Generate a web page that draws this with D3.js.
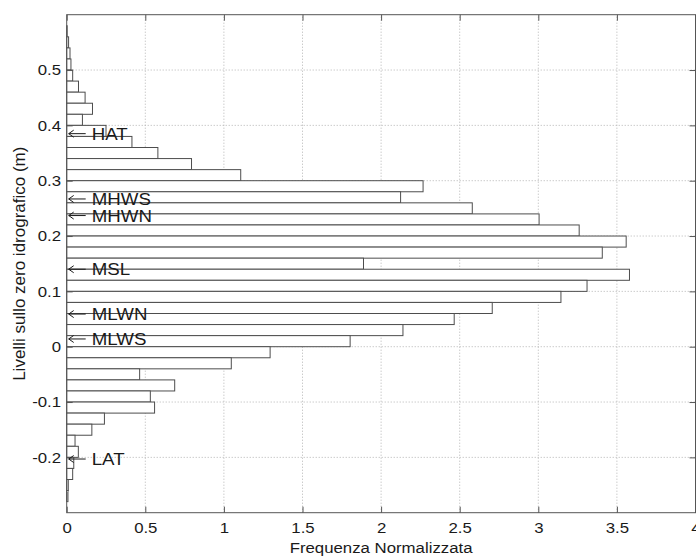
<!DOCTYPE html>
<html>
<head>
<meta charset="utf-8">
<script src="https://cdn.jsdelivr.net/npm/d3@7"></script>
<style>
    body { margin: 0; background: #fff; }
    svg text { font-family: "Liberation Sans", Arial, Helvetica, sans-serif; fill: #1a1a1a; }
</style>
</head>
<body>
<svg id="chart" width="696" height="556"></svg>
<script>

// livelli (centro classe, m) e frequenza normalizzata
var binCenters = [0.57, 0.55, 0.53, 0.51, 0.49, 0.47, 0.45, 0.43, 0.41, 0.39,
                  0.37, 0.35, 0.33, 0.31, 0.29, 0.27, 0.25, 0.23, 0.21, 0.19,
                  0.17, 0.15, 0.13, 0.11, 0.09, 0.07, 0.05, 0.03, 0.01, -0.01,
                  -0.03, -0.05, -0.07, -0.09, -0.11, -0.13, -0.15, -0.17, -0.19, -0.21,
                  -0.23, -0.25, -0.27];
var frequencies = [0.003, 0.012, 0.021, 0.027, 0.038, 0.075, 0.117, 0.164, 0.10, 0.25,
                   0.415, 0.58, 0.794, 1.107, 2.267, 2.124, 2.58, 3.005, 3.26, 3.559,
                   3.407, 1.888, 3.58, 3.31, 3.144, 2.707, 2.465, 2.139, 1.803, 1.294,
                   1.047, 0.464, 0.687, 0.532, 0.559, 0.24, 0.16, 0.053, 0.074, 0.045,
                   0.038, 0.01, 0.008];
var binWidth = 0.02;

var xTickValues = [0, 0.5, 1, 1.5, 2, 2.5, 3, 3.5, 4];
var yTickValues = [-0.2, -0.1, 0, 0.1, 0.2, 0.3, 0.4, 0.5];

var markerNames = ["HAT", "MHWS", "MHWN", "MSL", "MLWN", "MLWS", "LAT"];
var markerLevels = [0.385, 0.267, 0.237, 0.140, 0.059, 0.014, -0.203];

var Histogram = (function() {

    var svg = null;
    var x = null;
    var y = null;
    var stretch = "scale(1.12,1)";

    function drawGrid() {
        var g = svg.append("g").attr("class", "grid");
        g.selectAll("line.gx")
          .data(xTickValues.slice(1, -1))
          .enter().append("line")
          .attr("x1", function(d) { return x(d); })
          .attr("x2", function(d) { return x(d); })
          .attr("y1", y.range()[0])
          .attr("y2", y.range()[1]);
        g.selectAll("line.gy")
          .data(yTickValues)
          .enter().append("line")
          .attr("x1", x.range()[0])
          .attr("x2", x.range()[1])
          .attr("y1", function(d) { return y(d); })
          .attr("y2", function(d) { return y(d); });
        g.selectAll("line")
          .attr("stroke", "#b4b4b4")
          .attr("stroke-width", 1)
          .attr("stroke-dasharray", "1,2");
    }

    function drawBars() {
        svg.append("g")
          .selectAll("rect")
          .data(binCenters)
          .enter().append("rect")
          .attr("x", x(0))
          .attr("y", function(d) { return y(d + binWidth / 2); })
          .attr("width", function(d, i) { return x(frequencies[i]) - x(0); })
          .attr("height", function(d) { return y(d - binWidth / 2) - y(d + binWidth / 2); })
          .attr("fill", "#fff")
          .attr("stroke", "#4d4d4d")
          .attr("stroke-width", 1);
    }

    function drawAxes() {
        var fmt = function(d) { return String(d); };
        var bottom = svg.append("g")
          .attr("transform", "translate(0," + y.range()[0] + ")")
          .call(d3.axisBottom(x).tickValues(xTickValues).tickFormat(fmt)
                  .tickSize(-6).tickSizeOuter(0).tickPadding(10));
        var left = svg.append("g")
          .attr("transform", "translate(" + x.range()[0] + ",0)")
          .call(d3.axisLeft(y).tickValues(yTickValues).tickFormat(fmt)
                  .tickSize(-6).tickSizeOuter(0).tickPadding(5));
        var top = svg.append("g")
          .attr("transform", "translate(0," + y.range()[1] + ")")
          .call(d3.axisTop(x).tickValues(xTickValues).tickFormat("")
                  .tickSize(-6).tickSizeOuter(0));
        var right = svg.append("g")
          .attr("transform", "translate(" + x.range()[1] + ",0)")
          .call(d3.axisRight(y).tickValues(yTickValues).tickFormat("")
                  .tickSize(-6).tickSizeOuter(0));

        [bottom, left, top, right].forEach(function(g) {
            g.select(".domain").remove();
            g.selectAll(".tick line").attr("stroke", "#555");
            g.selectAll(".tick text")
              .attr("font-size", 15)
              .attr("font-family", null)
              .attr("fill", "#1a1a1a")
              .attr("transform", stretch);
        });

        // riquadro degli assi
        svg.append("rect")
          .attr("x", x.range()[0])
          .attr("y", y.range()[1])
          .attr("width", x.range()[1] - x.range()[0])
          .attr("height", y.range()[0] - y.range()[1])
          .attr("fill", "none")
          .attr("stroke", "#555")
          .attr("stroke-width", 1);
    }

    function drawMarkers() {
        var x0 = x(0);
        var g = svg.append("g").attr("class", "markers")
          .selectAll("g")
          .data(markerLevels)
          .enter().append("g");
        g.append("line")
          .attr("x1", x0 + 2)
          .attr("x2", x0 + 19)
          .attr("y1", function(d) { return y(d); })
          .attr("y2", function(d) { return y(d); })
          .attr("stroke", "#1a1a1a")
          .attr("stroke-width", 1);
        g.append("polyline")
          .attr("points", function(d) {
              var yy = y(d);
              return (x0 + 7) + "," + (yy - 3.5) + " " + (x0 + 2) + "," + yy + " " + (x0 + 7) + "," + (yy + 3.5);
          })
          .attr("fill", "none")
          .attr("stroke", "#1a1a1a")
          .attr("stroke-width", 1);
        g.append("text")
          .attr("transform", function(d) { return "translate(" + (x0 + 25) + "," + y(d) + ") scale(1.1,1)"; })
          .attr("dy", "0.36em")
          .attr("font-size", 17)
          .text(function(d, i) { return markerNames[i]; });
    }

    function drawLabels() {
        svg.append("text")
          .attr("transform", "translate(" + ((x.range()[0] + x.range()[1]) / 2) + ",553) " + stretch)
          .attr("text-anchor", "middle")
          .attr("font-size", 15)
          .text("Frequenza Normalizzata");
        svg.append("text")
          .attr("transform", "translate(25," + ((y.range()[0] + y.range()[1]) / 2) + ") rotate(-90)")
          .attr("text-anchor", "middle")
          .attr("font-size", 17)
          .text("Livelli sullo zero idrografico (m)");
    }

    function init(elem) {
        svg = d3.select(elem);
        x = d3.scaleLinear().domain([0, 4]).range([66.7, 695.5]);
        y = d3.scaleLinear().domain([-0.3, 0.6]).range([512.7, 14.7]);
        drawGrid();
        drawBars();
        drawAxes();
        drawMarkers();
        drawLabels();
    }

    return {
        "init": init
    };

})();

Histogram.init("#chart");
</script>
</body>
</html>
